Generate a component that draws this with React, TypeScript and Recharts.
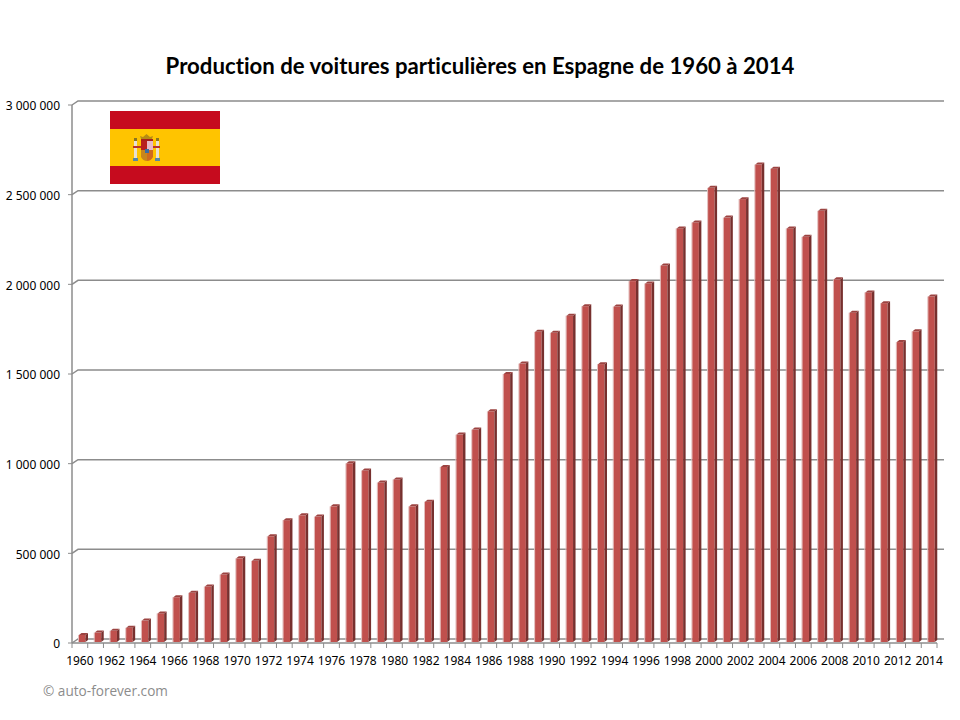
import React from "react";
import { Bar, BarChart, CartesianGrid, XAxis, YAxis } from "recharts";

const years = [
  1960, 1961, 1962, 1963, 1964, 1965, 1966, 1967, 1968, 1969, 1970, 1971, 1972, 1973,
  1974, 1975, 1976, 1977, 1978, 1979, 1980, 1981, 1982, 1983, 1984, 1985, 1986, 1987,
  1988, 1989, 1990, 1991, 1992, 1993, 1994, 1995, 1996, 1997, 1998, 1999, 2000, 2001,
  2002, 2003, 2004, 2005, 2006, 2007, 2008, 2009, 2010, 2011, 2012, 2013, 2014,
];

const production = [
  45000, 58000, 68000, 85000, 125000, 165000, 255000, 280000, 315000, 382000, 472000, 458000,
  595000, 685000, 712000, 705000, 762000, 1002000, 962000, 895000, 912000, 762000, 788000, 982000,
  1162000, 1190000, 1292000, 1500000, 1558000, 1735000, 1730000, 1825000, 1878000, 1555000,
  1876000, 2018000, 2005000, 2105000, 2312000, 2345000, 2538000, 2372000, 2475000, 2668000,
  2645000, 2312000, 2265000, 2410000, 2028000, 1842000, 1955000, 1895000, 1678000, 1738000, 1932000,
];

const yTicks = [0, 500000, 1000000, 1500000, 2000000, 2500000, 3000000];

const chartData = years.map((year, i) => ({ year, value: production[i] }));

const AXIS_COLOR = "#8c8c8c";
const STEP = 865 / 55;

const formatValue = (v: number) => String(v).replace(/\B(?=(\d{3})+$)/g, "\u00a0");

// back wall line: short diagonal from the front axis, then across the wall
function WallLine(props: any) {
  const { x1, x2, y1 } = props;
  return (
    <polyline
      points={`${x1},${y1} ${x1 + 6},${y1 - 4} ${x2 + 7},${y1 - 4}`}
      fill="none"
      stroke={AXIS_COLOR}
      strokeWidth={1.5}
    />
  );
}

function YearTick(props: any) {
  const { x, y, index, payload } = props;
  const last = index === years.length - 1;
  return (
    <g>
      <line x1={x - STEP / 2} x2={x - STEP / 2} y1={y} y2={y + 5} stroke={AXIS_COLOR} strokeWidth={1} />
      {last && <line x1={x + STEP / 2} x2={x + STEP / 2} y1={y} y2={y + 5} stroke={AXIS_COLOR} strokeWidth={1} />}
      {index % 2 === 0 && (
        <text x={x} y={y + 22} textAnchor="middle" fontSize={12} fontFamily="Noto Sans" fill="#000">
          {payload.value}
        </text>
      )}
    </g>
  );
}

// fake 3D column like the Excel chart
function Column3D(props: any) {
  const { x, y, width, height } = props;
  const left = x + 2;
  const right = left + width;
  const depth = 2.5;
  const bottom = y + height - 1;
  return (
    <g>
      <rect x={left - 1} y={y} width={1} height={bottom - y} fill="#e3bdbc" />
      <rect x={left} y={y} width={width} height={bottom - y} fill="#c0504d" />
      <polygon
        points={`${right},${y} ${right + depth},${y - 2} ${right + depth},${bottom - 2} ${right},${bottom}`}
        fill="#77302e"
      />
      <polygon
        points={`${left},${y} ${left + depth},${y - 2} ${right + depth},${y - 2} ${right},${y}`}
        fill="#9c4341"
      />
    </g>
  );
}

function Flag() {
  return (
    <svg
      width={110}
      height={73}
      viewBox="0 0 110 73"
      style={{ position: "absolute", left: 110, top: 111 }}
    >
      <rect width={110} height={73} fill="#c60b1e" />
      <rect y={18} width={110} height={37} fill="#ffc400" />
      <rect x={24} y={30} width={3} height={17} fill="#e8e0d0" />
      <rect x={46} y={30} width={3} height={17} fill="#e8e0d0" />
      <rect x={24} y={27} width={3} height={3} fill="#8a7420" />
      <rect x={46} y={27} width={3} height={3} fill="#8a7420" />
      <rect x={23} y={47} width={5} height={3} fill="#5a88a0" />
      <rect x={45} y={47} width={5} height={3} fill="#5a88a0" />
      <rect x={23} y={35} width={8} height={2} fill="#b8332a" />
      <rect x={42} y={35} width={8} height={2} fill="#b8332a" />
      <rect x={31} y={30} width={6} height={9} fill="#b81f1f" />
      <rect x={37} y={30} width={6} height={9} fill="#e5b8c8" />
      <path d="M31 39 H37 V50 Q33 50 31 46 Z" fill="#c8861c" />
      <path d="M37 39 H43 V46 Q41 50 37 50 Z" fill="#cf6a1e" />
      <rect x={35} y={38} width={4} height={4} fill="#3a6ea5" />
      <path d="M31 28 L30 25 L33 26 L36.5 23 L40 26 L43 25 L42 28 Z" fill="#b58a14" />
      <rect x={31} y={28} width={12} height={2} fill="#a8201c" />
    </svg>
  );
}

export default function App() {
  return (
    <div style={{ position: "absolute", left: 0, top: 0, width: 960, height: 720, background: "#fff", fontFamily: "Lato" }}>
      <div
        style={{
          position: "absolute",
          top: 52,
          left: 0,
          width: 960,
          textAlign: "center",
          fontSize: 22.2,
          fontWeight: 700,
          fontVariantLigatures: "none",
          color: "#000",
        }}
      >
        Production de voitures particulières en Espagne de 1960 à 2014
      </div>
      <BarChart
        width={960}
        height={720}
        data={chartData}
        margin={{ top: 105, right: 23, bottom: 47, left: 0 }}
        barCategoryGap={0}
      >
        <CartesianGrid vertical={false} horizontal={<WallLine />} syncWithTicks />
        <XAxis
          dataKey="year"
          interval={0}
          height={30}
          tickSize={0}
          tickMargin={0}
          axisLine={{ stroke: AXIS_COLOR, strokeWidth: 1.5 }}
          tickLine={false}
          tick={<YearTick />}
        />
        <YAxis
          width={72}
          domain={[0, 3000000]}
          ticks={yTicks}
          tickFormatter={formatValue}
          tickSize={4}
          tickMargin={8}
          axisLine={{ stroke: AXIS_COLOR, strokeWidth: 1.5 }}
          tickLine={{ stroke: AXIS_COLOR }}
          tick={{ fontSize: 12, fontFamily: "Noto Sans", fill: "#000", dy: 1 }}
        />
        <Bar dataKey="value" barSize={6.5} isAnimationActive={false} shape={<Column3D />} />
      </BarChart>
      <Flag />
      <div
        style={{
          position: "absolute",
          left: 43,
          top: 681,
          fontSize: 13.6,
          fontFamily: "Open Sans",
          color: "#8c8c8c",
        }}
      >
        © auto-forever.com
      </div>
    </div>
  );
}
